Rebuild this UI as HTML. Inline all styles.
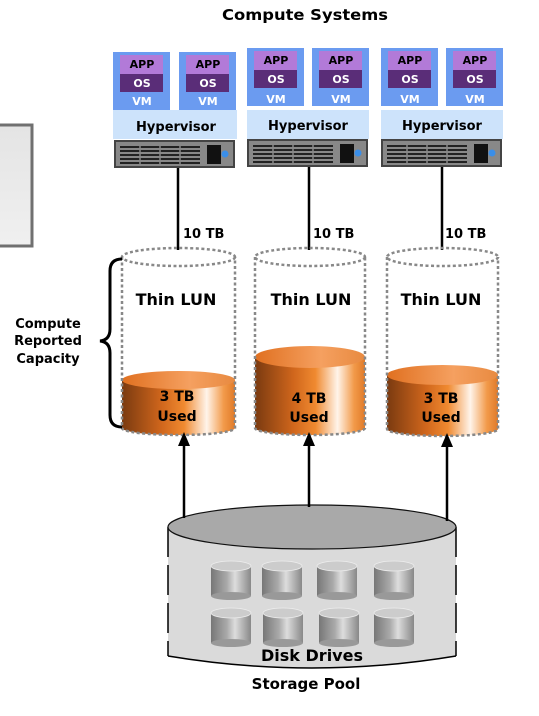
<!DOCTYPE html>
<html><head><meta charset="utf-8"><style>
html,body{margin:0;padding:0;background:#fff;}
svg{display:block;}
text{font-family:"DejaVu Sans","Liberation Sans",sans-serif;font-weight:bold;fill:#000;}
</style></head><body>
<svg width="539" height="716" viewBox="0 0 539 716" xmlns="http://www.w3.org/2000/svg">
<defs>
<linearGradient id="or" x1="0" x2="1" y1="0" y2="0">
<stop offset="0" stop-color="#7a3a10"/><stop offset="0.35" stop-color="#d0661c"/><stop offset="0.55" stop-color="#f08a30"/><stop offset="0.75" stop-color="#fff4ea"/><stop offset="0.9" stop-color="#f29a4a"/><stop offset="1" stop-color="#e07a28"/>
</linearGradient>
<linearGradient id="ortop" x1="0" x2="1"><stop offset="0" stop-color="#e07020"/><stop offset="0.6" stop-color="#f5a060"/><stop offset="1" stop-color="#e88a40"/></linearGradient>
<linearGradient id="gr" x1="0" x2="1"><stop offset="0" stop-color="#777"/><stop offset="0.4" stop-color="#aaa"/><stop offset="0.6" stop-color="#ddd"/><stop offset="1" stop-color="#888"/></linearGradient>
<linearGradient id="box" x1="0" x2="0" y1="0" y2="1"><stop offset="0" stop-color="#e4e4e4"/><stop offset="1" stop-color="#f0f0f0"/></linearGradient>
<g id="vm">
<rect x="0" y="0" width="57" height="58" fill="#6b9bf0"/>
<rect x="7" y="3" width="43" height="19" fill="#b27ad8"/>
<rect x="7" y="22" width="43" height="18" fill="#5a2d78"/>
</g>
<g id="srv">
<rect x="0" y="0" width="121" height="28" fill="#444"/>
<rect x="2" y="2" width="117" height="24" fill="#888"/>
<g stroke="#222" stroke-width="2">
<line x1="6" y1="7" x2="86" y2="7"/><line x1="6" y1="11" x2="86" y2="11"/><line x1="6" y1="15" x2="86" y2="15"/><line x1="6" y1="19" x2="86" y2="19"/><line x1="6" y1="23" x2="86" y2="23"/>
</g>
<g stroke="#888" stroke-width="1.5"><line x1="26" y1="5" x2="26" y2="25"/><line x1="46" y1="5" x2="46" y2="25"/><line x1="66" y1="5" x2="66" y2="25"/></g>
<rect x="93" y="5" width="14" height="19" fill="#111"/>
<circle cx="111" cy="14" r="3.5" fill="#3a8ee8"/>
</g>
<g id="disk">
<rect x="0" y="6" width="40" height="30" fill="url(#gr)"/>
<ellipse cx="20" cy="36" rx="20" ry="4" fill="#999"/>
<ellipse cx="20" cy="6" rx="20" ry="5" fill="#ccc" stroke="#eee" stroke-width="0.8"/>
</g>
</defs>

<text x="305" y="20" font-size="15" text-anchor="middle" textLength="166" lengthAdjust="spacingAndGlyphs">Compute Systems</text>

<rect x="-4" y="125" width="36" height="121" fill="url(#box)" stroke="#707070" stroke-width="3"/>

<use href="#vm" x="113" y="52"/><use href="#vm" x="179" y="52"/>
<rect x="113" y="110" width="124" height="29" fill="#cde3fb"/>
<use href="#srv" x="114" y="140"/>
<use href="#vm" x="247" y="48"/><use href="#vm" x="312" y="48"/>
<rect x="247" y="110" width="122" height="29" fill="#cde3fb"/>
<use href="#srv" x="247" y="139"/>
<use href="#vm" x="381" y="48"/><use href="#vm" x="446" y="48"/>
<rect x="381" y="110" width="122" height="29" fill="#cde3fb"/>
<use href="#srv" x="381" y="139"/>

<g font-size="11" text-anchor="middle">
<text x="142" y="68">APP</text><text x="142" y="87" style="fill:#fff">OS</text><text x="142" y="105" style="fill:#fff">VM</text>
<text x="208" y="68">APP</text><text x="208" y="87" style="fill:#fff">OS</text><text x="208" y="105" style="fill:#fff">VM</text>
<text x="276" y="64">APP</text><text x="276" y="83" style="fill:#fff">OS</text><text x="276" y="103" style="fill:#fff">VM</text>
<text x="341" y="64">APP</text><text x="341" y="83" style="fill:#fff">OS</text><text x="341" y="103" style="fill:#fff">VM</text>
<text x="410" y="64">APP</text><text x="410" y="83" style="fill:#fff">OS</text><text x="410" y="103" style="fill:#fff">VM</text>
<text x="475" y="64">APP</text><text x="475" y="83" style="fill:#fff">OS</text><text x="475" y="103" style="fill:#fff">VM</text>
</g>
<g font-size="13" text-anchor="middle">
<text x="176" y="131">Hypervisor</text>
<text x="308" y="130">Hypervisor</text>
<text x="442" y="130">Hypervisor</text>
</g>

<g stroke="#000" stroke-width="2.5">
<line x1="178" y1="168" x2="178" y2="250"/>
<line x1="309" y1="167" x2="309" y2="250"/>
<line x1="442" y1="167" x2="442" y2="250"/>
</g>
<g font-size="13">
<text x="183" y="238">10 TB</text><text x="313" y="238">10 TB</text><text x="445" y="238">10 TB</text>
</g>

<rect x="122" y="380" width="113" height="48" fill="url(#or)"/>
<ellipse cx="178.5" cy="428" rx="56.5" ry="7" fill="url(#or)"/>
<ellipse cx="178.5" cy="380" rx="56.5" ry="9" fill="url(#ortop)"/>
<rect x="255" y="357" width="110" height="71" fill="url(#or)"/>
<ellipse cx="310" cy="428" rx="55" ry="7" fill="url(#or)"/>
<ellipse cx="310" cy="357" rx="55" ry="11" fill="url(#ortop)"/>
<rect x="387" y="375" width="111" height="54" fill="url(#or)"/>
<ellipse cx="442.5" cy="429" rx="55.5" ry="7" fill="url(#or)"/>
<ellipse cx="442.5" cy="375" rx="55.5" ry="10" fill="url(#ortop)"/>

<g fill="none" stroke="#888" stroke-width="2.5" stroke-dasharray="3,2.5">
<ellipse cx="178.5" cy="257" rx="56.5" ry="9"/>
<path d="M122 257 V428 A56.5 7 0 0 0 235 428 V257"/>
<ellipse cx="310" cy="257" rx="55" ry="9"/>
<path d="M255 257 V428 A55 7 0 0 0 365 428 V257"/>
<ellipse cx="442.5" cy="257" rx="55.5" ry="9"/>
<path d="M387 257 V429 A55.5 7 0 0 0 498 429 V257"/>
</g>

<g font-size="16" text-anchor="middle">
<text x="176" y="305">Thin LUN</text><text x="311" y="305">Thin LUN</text><text x="441" y="305">Thin LUN</text>
</g>
<g font-size="14" text-anchor="middle" style="font-family:'Liberation Sans',sans-serif">
<text x="177" y="401">3 TB</text><text x="177" y="421">Used</text>
<text x="309" y="403">4 TB</text><text x="309" y="422">Used</text>
<text x="441" y="403">3 TB</text><text x="441" y="422">Used</text>
</g>

<path d="M122 259 Q110 259 110 271 V329 Q110 340 100 341 Q110 342 110 353 V415 Q110 427 122 427" fill="none" stroke="#000" stroke-width="3"/>
<g font-size="13" text-anchor="middle">
<text x="48" y="328">Compute</text><text x="48" y="345">Reported</text><text x="48" y="363">Capacity</text>
</g>

<path d="M168 527 V656 Q312 680 456 656 V527 Z" fill="#dadada"/>
<path d="M168 527 V656" fill="none" stroke="#000" stroke-width="1.5" stroke-dasharray="30,8"/>
<path d="M456 527 V656" fill="none" stroke="#000" stroke-width="1.5" stroke-dasharray="30,8"/>
<path d="M168 656 Q312 680 456 656" fill="none" stroke="#000" stroke-width="1.5"/>
<ellipse cx="312" cy="527" rx="144" ry="22" fill="#a9a9a9" stroke="#111" stroke-width="1.2"/>
<use href="#disk" x="211" y="560"/><use href="#disk" x="262" y="560"/><use href="#disk" x="317" y="560"/><use href="#disk" x="374" y="560"/>
<use href="#disk" x="211" y="607"/><use href="#disk" x="263" y="607"/><use href="#disk" x="319" y="607"/><use href="#disk" x="374" y="607"/>

<g stroke="#000" stroke-width="2.5">
<line x1="184" y1="518" x2="184" y2="442"/>
<line x1="309" y1="507" x2="309" y2="442"/>
<line x1="447" y1="521" x2="447" y2="442"/>
</g>
<g fill="#000">
<polygon points="184,432 178,446 190,446"/>
<polygon points="309,432 303,446 315,446"/>
<polygon points="447,433 441,447 453,447"/>
</g>

<text x="312" y="661" font-size="16" text-anchor="middle">Disk Drives</text>
<text x="306" y="689" font-size="15" text-anchor="middle">Storage Pool</text>
</svg>
</body></html>
